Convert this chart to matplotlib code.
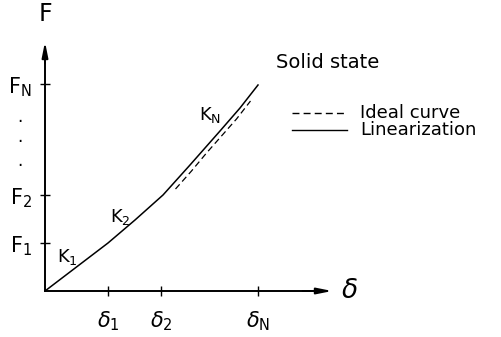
import matplotlib
matplotlib.use("Agg")
import matplotlib.pyplot as plt

# data (units: px-like offsets from origin)
DELTA_TICKS = [63, 116, 213]
DELTA_LABELS = [r"$\delta_\mathrm{1}$", r"$\delta_\mathrm{2}$", r"$\delta_\mathrm{N}$"]
F_TICKS = [48, 96, 207]
F_LABELS = [r"F$_\mathrm{1}$", r"F$_\mathrm{2}$", r"F$_\mathrm{N}$"]

# linearization (piecewise, through the (delta_i, F_i) points)
LIN_X = [0, 63, 90, 118, 145, 175, 195, 213]
LIN_F = [0, 48, 71, 96, 126, 160, 183, 206]
# ideal curve, only visible as a dashed stretch on the upper part
IDEAL_X = [129, 145, 160, 175, 190, 204]
IDEAL_F = [104, 122, 140, 157, 174, 192]

K_LABELS = [(r"K$_\mathrm{1}$", 22, 34), (r"K$_\mathrm{2}$", 75, 74), (r"K$_\mathrm{N}$", 165, 176)]

fig = plt.figure(figsize=(5.02, 3.37), dpi=100)
ax = fig.add_axes([0, 0, 1, 1])
ax.set_xlim(-45, 457)
ax.set_ylim(-46, 291)

for s in ["top", "right"]:
    ax.spines[s].set_visible(False)
ax.spines["left"].set_position(("data", 0))
ax.spines["bottom"].set_position(("data", 0))
ax.spines["left"].set_bounds(0, 240)
ax.spines["bottom"].set_bounds(0, 275)
ax.spines["left"].set_linewidth(1.4)
ax.spines["bottom"].set_linewidth(1.4)

ax.set_xticks(DELTA_TICKS)
ax.set_xticklabels(DELTA_LABELS, fontsize=15)
ax.set_yticks(F_TICKS)
ax.set_yticklabels(F_LABELS, fontsize=15)
ax.tick_params(axis="x", direction="inout", length=7, width=1, pad=10)
ax.tick_params(axis="y", direction="inout", length=7, width=1, pad=6)

# axis arrows
ax.annotate("", xy=(290, 0), xytext=(255, 0),
            arrowprops=dict(arrowstyle="-|>,head_length=0.9,head_width=0.18", color="k", lw=1.4))
ax.annotate("", xy=(0, 252), xytext=(0, 225),
            arrowprops=dict(arrowstyle="-|>,head_length=0.9,head_width=0.18", color="k", lw=1.4))
ax.text(0, 265, "F", fontsize=17, ha="center", va="bottom")
ax.text(296, 0, r"$\delta$", fontsize=19, ha="left", va="center")

# vertical dots between F2 and FN
for yy in [174, 154, 130]:
    ax.text(-25, yy, ".", fontsize=12, ha="center", va="center")

ax.plot(LIN_X, LIN_F, color="k", lw=1.1)
ax.plot([x + 1.5 for x in IDEAL_X], [f - 2 for f in IDEAL_F], color="k", lw=0.9, ls=(0, (5, 3)))

for lab, x, y in K_LABELS:
    ax.text(x, y, lab, fontsize=13, ha="center", va="center")

ax.text(283, 228, "Solid state", fontsize=14, ha="center", va="center")

# legend drawn by hand
ax.plot([247, 302], [178, 178], color="k", lw=1.0, ls=(0, (5, 3)))
ax.plot([247, 302], [161, 161], color="k", lw=1.0)
ax.text(315, 178, "Ideal curve", fontsize=13, va="center")
ax.text(315, 161, "Linearization", fontsize=13, va="center")

fig.savefig("out.png", dpi=100)
